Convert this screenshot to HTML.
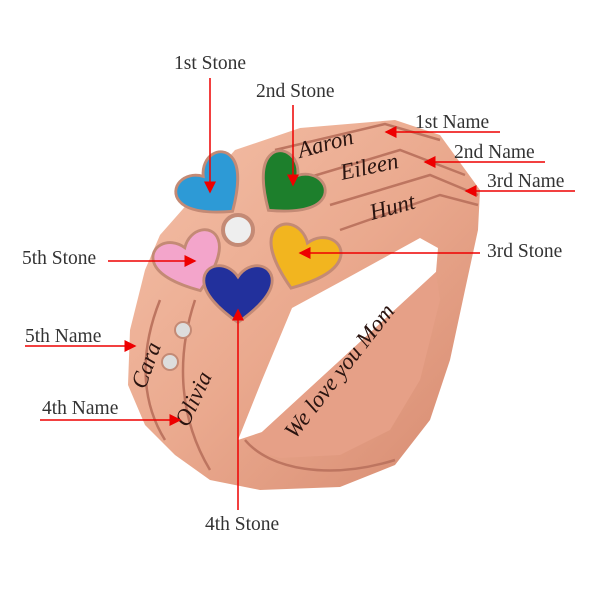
<!DOCTYPE html>
<html><head><meta charset="utf-8"><style>
html,body{margin:0;padding:0;background:#fff;}
svg{display:block}
text{font-family:"Liberation Serif",serif;font-size:19.5px;fill:#333;}
.sc{font-family:"Liberation Serif",serif;font-style:italic;font-size:23px;fill:#2a1410;}
</style></head><body>
<svg width="600" height="600" viewBox="0 0 600 600" xmlns="http://www.w3.org/2000/svg">
<defs>
<linearGradient id="rg" x1="0" y1="0" x2="1" y2="1">
<stop offset="0" stop-color="#f4c0a8"/><stop offset="0.5" stop-color="#eaa98e"/><stop offset="1" stop-color="#d68a70"/>
</linearGradient>
<marker id="ar" markerWidth="8" markerHeight="8" refX="7" refY="4" orient="auto"><path d="M0,0 L8,4 L0,8 z" fill="#e00"/></marker>
<path id="hrt" d="M0,32 C-20,18 -36,2 -36,-12 C-36,-30 -12,-34 0,-16 C12,-34 36,-30 36,-12 C36,2 20,18 0,32 Z"/>
</defs>
<!-- ring silhouette -->
<path d="M235,150 L300,128 L395,120 L440,135 L480,190 L478,230 L465,290 L450,360 L430,420 L395,465 L340,487 L260,490 L210,480 L175,455 L145,425 L128,385 L130,330 L145,270 L160,235 Z" fill="url(#rg)"/>
<!-- hole -->
<path d="M292,308 L340,282 L420,238 L438,248 L436,272 L360,342 L262,432 L238,440 L262,380 Z" fill="#fff"/>
<!-- inner strip shading -->
<path d="M262,432 L360,342 L436,272 L440,300 L420,380 L390,430 L340,455 L280,458 L245,448 Z" fill="#e6a087"/>
<!-- band grooves -->
<g stroke="#bd7560" stroke-width="2.5" fill="none">
<path d="M275,150 L385,124 L440,140"/>
<path d="M300,180 L400,150 L465,175"/>
<path d="M330,205 L430,175 L478,195"/>
<path d="M340,230 L440,195 L478,205"/>
<path d="M160,300 C140,350 140,400 165,440"/>
<path d="M195,300 C175,360 180,420 210,470"/>
<path d="M245,440 C270,470 330,480 395,460"/>
</g>
<!-- engravings -->
<text class="sc" x="300" y="158" transform="rotate(-15 300 158)">Aaron</text>
<text class="sc" x="342" y="180" transform="rotate(-12 342 180)">Eileen</text>
<text class="sc" x="372" y="220" transform="rotate(-15 372 220)">Hunt</text>
<text class="sc" x="145" y="390" transform="rotate(-70 145 390)">Cara</text>
<text class="sc" x="188" y="428" transform="rotate(-65 188 428)">Olivia</text>
<text class="sc" x="295" y="440" transform="rotate(-52 295 440)">We love you Mom</text>
<!-- stones -->
<g stroke="#c48a75" stroke-width="3">
<use href="#hrt" transform="translate(213,188) rotate(-40) scale(0.95)" fill="#2d9ad6"/>
<use href="#hrt" transform="translate(288,187) rotate(40) scale(0.95)" fill="#1d7f2c"/>
<use href="#hrt" transform="translate(302,258) rotate(20) scale(1.0)" fill="#f2b51f"/>
<use href="#hrt" transform="translate(190,262) rotate(-20) scale(0.95)" fill="#f3a5cb"/>
<use href="#hrt" transform="translate(238,292) rotate(0) scale(0.95)" fill="#22309c"/>
</g>
<circle cx="238" cy="230" r="15" fill="#eee" stroke="#c48a75" stroke-width="4"/>
<circle cx="183" cy="330" r="8" fill="#ddd" stroke="#c48a75" stroke-width="2"/>
<circle cx="170" cy="362" r="8" fill="#ddd" stroke="#c48a75" stroke-width="2"/>
<!-- labels -->
<text x="174" y="69">1st Stone</text>
<text x="256" y="97">2nd Stone</text>
<text x="415" y="128">1st Name</text>
<text x="454" y="158">2nd Name</text>
<text x="487" y="187">3rd Name</text>
<text x="22" y="264">5th Stone</text>
<text x="487" y="257">3rd Stone</text>
<text x="25" y="342">5th Name</text>
<text x="42" y="414">4th Name</text>
<text x="205" y="530">4th Stone</text>
<g stroke="#e00" stroke-width="1.5" fill="none">
<line x1="210" y1="78" x2="210" y2="192" marker-end="url(#ar)"/>
<line x1="293" y1="105" x2="293" y2="185" marker-end="url(#ar)"/>
<line x1="500" y1="132" x2="386" y2="132" marker-end="url(#ar)"/>
<line x1="545" y1="162" x2="425" y2="162" marker-end="url(#ar)"/>
<line x1="575" y1="191" x2="466" y2="191" marker-end="url(#ar)"/>
<line x1="108" y1="261" x2="195" y2="261" marker-end="url(#ar)"/>
<line x1="480" y1="253" x2="300" y2="253" marker-end="url(#ar)"/>
<line x1="25" y1="346" x2="135" y2="346" marker-end="url(#ar)"/>
<line x1="40" y1="420" x2="180" y2="420" marker-end="url(#ar)"/>
<line x1="238" y1="510" x2="238" y2="310" marker-end="url(#ar)"/>
</g>
</svg>
</body></html>
